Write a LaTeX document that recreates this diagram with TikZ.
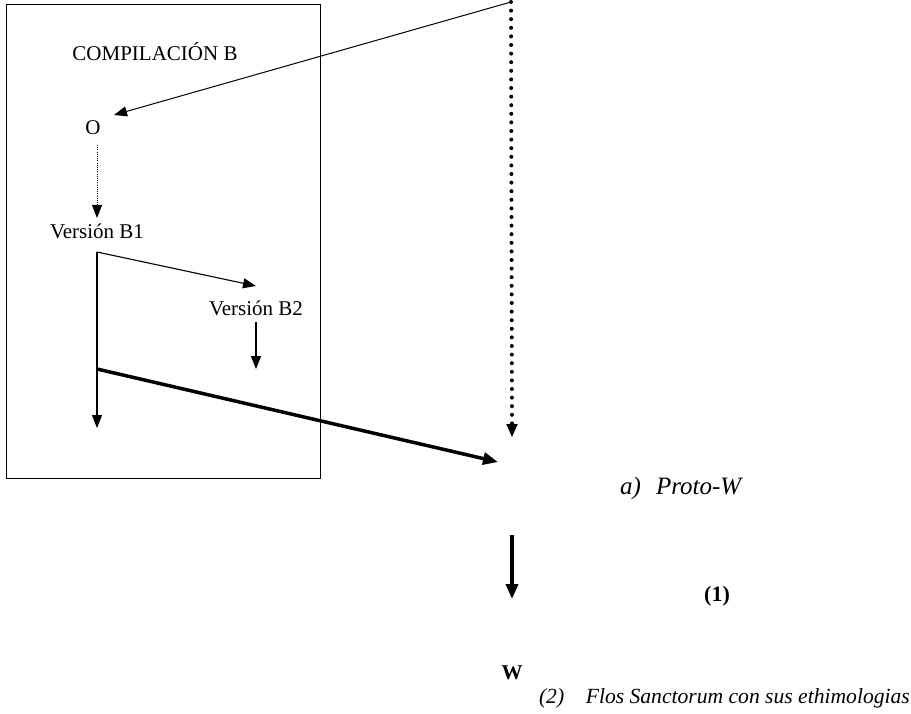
\documentclass[tikz,border=0pt]{standalone}
\usepackage{fontspec}
\setmainfont{Liberation Serif}
\usepackage{tikz}
\usetikzlibrary{positioning,arrows.meta}

\begin{document}
\begin{tikzpicture}[x=1pt, y=-1pt, >={Triangle[length=13pt, width=10pt]},
  txt/.style={inner sep=0pt, font=\fontsize{21}{24}\selectfont},
  heavy/.style={line width=3.5pt, >={Triangle[length=15pt, width=12pt]}}]
\useasboundingbox (0,0) rectangle (911,714);
\draw[line width=1pt] (6,5) rectangle (320,478);
\node[txt] (comp) at (155,52) {COMPILACIÓN B};
\node[txt] (O) at (93,128) {O};
\node[txt] (vB1) at (97,231) {Versión B1};
\node[txt] (vB2) at (256,308) {Versión B2};
\node[txt, font=\fontsize{25}{28}\selectfont\itshape, anchor=west] (proto) at (620,488) {a)\hspace{0.6em}Proto-W};
\node[txt, font=\fontsize{22}{24}\selectfont\bfseries] (one) at (717,596) {(1)};
\node[txt, font=\fontsize{21}{24}\selectfont\bfseries] (W) at (512,673) {W};
\node[txt, font=\fontsize{21.6}{24}\selectfont\itshape, anchor=east] (flos) at (910,698) {(2)\hspace{1em}Flos Sanctorum con sus ethimologias};
% free ends
\coordinate (top) at (511,2);
\coordinate (toO) at (114,115);
\coordinate (underO) at (97,145);
\coordinate (overB1) at (97,218);
\coordinate (split) at (97,252);
\coordinate (endB1) at (97,428);
\coordinate (toB2) at (256,286);
\coordinate (underB2) at (256,322);
\coordinate (endB2) at (256,369);
\coordinate (branch) at (97,369);
\coordinate (toP) at (498,462);
\coordinate (dotStop) at (512,424);
\coordinate (dotEnd) at (512,437);
\coordinate (pW) at (512,535);
\coordinate (pWend) at (512,599);
% arrows
\draw[->, line width=1pt] (top) -- (toO);
\draw[->, line width=0.8pt, dash pattern=on 1pt off 1.2pt] (underO) -- (overB1);
\draw[->, line width=1.1pt] (split) -- (endB1);
\draw[->, line width=1.1pt] (split) -- (toB2);
\draw[->, line width=1.1pt] (underB2) -- (endB2);
\draw[->, heavy] (branch) -- (toP);
\draw[line width=4pt, line cap=round, dash pattern=on 0pt off 8.6pt] (top) -- (dotStop);
\draw[->, line width=2pt, >={Triangle[length=13pt, width=11pt]}] (dotStop) -- (dotEnd);
\draw[->, heavy] (pW) -- (pWend);
\end{tikzpicture}
\end{document}
